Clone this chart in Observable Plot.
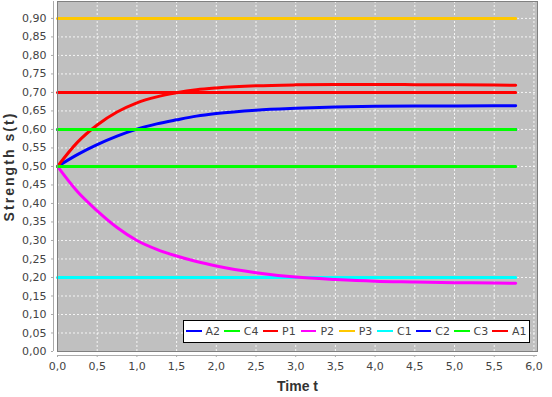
<!DOCTYPE html>
<html>
<head>
<meta charset="utf-8">
<script src="https://cdn.jsdelivr.net/npm/d3@7"></script>
<script src="https://cdn.jsdelivr.net/npm/@observablehq/plot@0.6"></script>
<style>
  html, body { margin: 0; padding: 0; background: white; }
  #wrap { position: relative; width: 552px; height: 397px; }
  #legend {
    position: absolute; left: 182.5px; top: 319.5px; width: 347px; height: 23px;
    box-sizing: border-box; background: white; border: 1px solid black;
    display: flex; align-items: center; padding-left: 2.5px;
    font-family: "DejaVu Sans", sans-serif; font-size: 11px; color: #444;
  }
  .item { width: 38.3px; display: flex; align-items: center; flex: none; }
  .swatch { width: 15.5px; height: 2px; margin-right: 4px; }
</style>
</head>
<body>
<div id="wrap"><div id="chart"></div><div id="legend"></div></div>
<script>
// Series names as listed in the legend, and their colours
const seriesNames = ["A2", "C4", "P1", "P2", "P3", "C1", "C2", "C3", "A1"];
const seriesColors = ["#0000ff", "#00ff00", "#ff0000", "#ff00ff", "#ffc800", "#00ffff", "#0000ff", "#00ff00", "#ff0000"];

// Time samples for the curved series
const times = [0, 0.25, 0.5, 0.75, 1, 1.25, 1.5, 1.75, 2, 2.5, 3, 3.5, 4, 4.5, 5, 5.5, 5.77];
const A2 = [0.5, 0.532, 0.559, 0.582, 0.601, 0.615, 0.626, 0.636, 0.643, 0.652, 0.657, 0.6605, 0.6625, 0.6634, 0.6636, 0.6638, 0.664];
const P1 = [0.5, 0.565, 0.612, 0.647, 0.672, 0.688, 0.699, 0.707, 0.712, 0.718, 0.7205, 0.7214, 0.7214, 0.721, 0.7205, 0.72, 0.7196];
const P2 = [0.5, 0.432, 0.38, 0.335, 0.30, 0.276, 0.258, 0.243, 0.231, 0.213, 0.201, 0.1945, 0.190, 0.188, 0.186, 0.185, 0.1845];

// Flat series (start and end times)
const flatTimes = [0, 5.77];
const C4 = [0.5, 0.5];
const P3 = [0.9, 0.9];
const C1 = [0.2, 0.2];
const C2 = [0.6, 0.6];
const C3 = [0.6, 0.6];
const A1 = [0.7, 0.7];

// Axis ticks
const xTicks = [0, 0.5, 1, 1.5, 2, 2.5, 3, 3.5, 4, 4.5, 5, 5.5, 6];
const yTicks = [0, 0.05, 0.1, 0.15, 0.2, 0.25, 0.3, 0.35, 0.4, 0.45, 0.5, 0.55, 0.6, 0.65, 0.7, 0.75, 0.8, 0.85, 0.9];

// Build table in drawing order (later = on top)
const drawOrder = [
  ["A1", flatTimes, A1],
  ["C2", flatTimes, C2],
  ["A2", times, A2],
  ["P1", times, P1],
  ["C1", flatTimes, C1],
  ["P2", times, P2],
  ["C4", flatTimes, C4],
  ["C3", flatTimes, C3],
  ["P3", flatTimes, P3]
];
const table = [];
for (const [s, ts, vs] of drawOrder) ts.forEach((t, i) => table.push({s, t, v: vs[i]}));

const comma = (digits) => (d) => d.toFixed(digits).replace(".", ",");
const yTitle = "Strength s(t)";
const xTitle = "Time t";

const chart = Plot.plot({
  width: 552, height: 397,
  marginLeft: 57, marginRight: 15, marginTop: 1, marginBottom: 46,
  style: {fontFamily: "DejaVu Sans", fontSize: "11px", background: "white", overflow: "visible"},
  x: {domain: [0, 6.045]},
  y: {domain: [0, 0.9457]},
  color: {domain: seriesNames, range: seriesColors},
  marks: [
    Plot.frame({fill: "#c0c0c0"}),
    Plot.gridX(xTicks, {stroke: "white", strokeOpacity: 0.85, strokeDasharray: "2,2"}),
    Plot.gridY(yTicks, {stroke: "white", strokeOpacity: 0.85, strokeDasharray: "2,2"}),
    Plot.line(table, {x: "t", y: "v", z: "s", stroke: "s", strokeWidth: 3, curve: "monotone-x"}),
    Plot.frame({stroke: "#808080"}),
    Plot.ruleX([0], {dx: -4, stroke: "#aaaaaa"}),
    Plot.ruleY([0], {dy: 4, stroke: "#aaaaaa"}),
    Plot.axisY(yTicks, {tickSize: 2, tickPadding: 5, dx: -4, tickFormat: comma(2), fill: "#444", stroke: "#aaaaaa", label: null}),
    Plot.axisX(xTicks, {tickSize: 2, tickPadding: 5, dy: 4, tickFormat: comma(1), fill: "#444", stroke: "#aaaaaa", label: null}),
    Plot.text([xTitle], {text: d => d, frameAnchor: "bottom", lineAnchor: "bottom", dy: 39, fontWeight: "bold", fontSize: 14, fontFamily: "Liberation Sans", fill: "#333"}),
    Plot.text([yTitle], {text: d => d, frameAnchor: "left", textAnchor: "middle", lineAnchor: "middle", rotate: -90, dx: -48, dy: -9, fontWeight: "bold", fontSize: 14, fontFamily: "Liberation Sans", fill: "#333"})
  ]
});
// stretch the rotated y title to the reference's length
d3.select(chart).selectAll("text").filter(function () { return this.textContent === yTitle; })
  .attr("textLength", 108).attr("lengthAdjust", "spacing");
document.getElementById("chart").appendChild(chart);

const legend = document.getElementById("legend");
seriesNames.forEach((name, i) => {
  const item = document.createElement("div");
  item.className = "item";
  const sw = document.createElement("div");
  sw.className = "swatch";
  sw.style.background = seriesColors[i];
  const lab = document.createElement("span");
  lab.textContent = name;
  item.appendChild(sw);
  item.appendChild(lab);
  legend.appendChild(item);
});
</script>
</body>
</html>
